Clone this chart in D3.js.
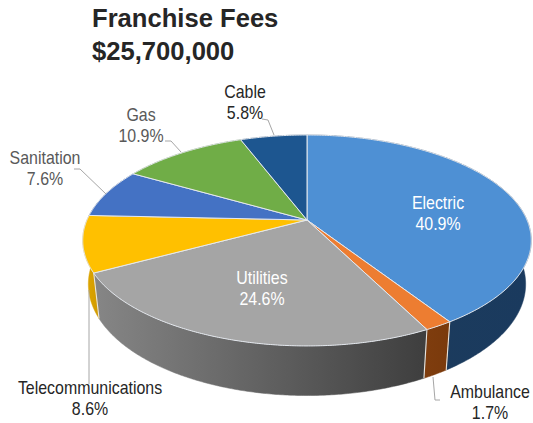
<!DOCTYPE html>
<html><head><meta charset="utf-8">
<script src="https://cdn.jsdelivr.net/npm/d3@7"></script>
<style>html,body{margin:0;background:#fff}svg{display:block}</style>
</head><body><svg id="c" width="533" height="423"></svg>
<script>
const titleLines = ["Franchise Fees", "$25,700,000"];
const categories = ["Electric", "Ambulance", "Utilities", "Telecommunications", "Sanitation", "Gas", "Cable"];
const shares = [40.9, 1.7, 24.6, 8.6, 7.6, 10.9, 5.8];
const topColors = ["#4e90d4", "#ed7d31", "#a5a5a5", "#ffc000", "#4472c4", "#70ad47", "#1d5690"];
const sideLeft = ["#1d3c5c", "#7f3d0e", "#868686", "#e2a900", "#2f5597", "#4f7f30", "#143c63"];
const sideRight = ["#1a3a5e", "#7a3a0c", "#3e3e3e", "#d09a00", "#2f5597", "#4f7f30", "#143c63"];

const svg = d3.select("#c"), defs = svg.append("defs");
// perspective projection of the pie's unit disc
const cx = 307, cy = 220, R = 220, S = 101.5, P = 0.194, D = 42.5, shrink = 0.975;
const project = (a, h) => {
  const u = Math.sin(a), v = -Math.cos(a), w = 1 - P * v;
  const k = h ? shrink : 1;
  return [cx + k * R * u / w, cy + k * S * v / w + (h ? D / w : 0)];
};
const pieData = d3.pie().sort(null).value(d => d)(shares);
const line = d3.line();
const sample = (d) => d3.range(d.startAngle, d.endAngle, Math.PI / 360).concat(d.endAngle);

// sides
const sides = svg.append("g");
pieData.forEach((d, i) => {
  const as = sample(d);
  const top = as.map(a => project(a, 0));
  const bot = as.map(a => project(a, 1));
  const xs = top.concat(bot).map(p => p[0]);
  const gid = "g" + i;
  const g = defs.append("linearGradient").attr("id", gid).attr("gradientUnits", "userSpaceOnUse")
    .attr("x1", d3.min(xs)).attr("x2", d3.max(xs)).attr("y1", 0).attr("y2", 0);
  g.append("stop").attr("offset", 0).attr("stop-color", sideLeft[i]);
  g.append("stop").attr("offset", 1).attr("stop-color", sideRight[i]);
  sides.append("path")
    .attr("d", line(top.concat(bot.reverse())) + "Z")
    .attr("fill", `url(#${gid})`)
    .attr("stroke", `url(#${gid})`).attr("stroke-width", 0.5);
});
// light seams on the front side
[1, 2, 3].forEach(i => {
  const a = pieData[i].startAngle;
  sides.append("path").attr("d", line([project(a, 0), project(a, 1)]))
    .attr("stroke", "#e8e4de").attr("stroke-width", 1.1).attr("fill", "none");
});

// top faces
const tops = svg.append("g");
pieData.forEach((d, i) => {
  tops.append("path")
    .attr("d", line([[cx, cy]].concat(sample(d).map(a => project(a, 0)))) + "Z")
    .attr("fill", topColors[i])
    .attr("stroke", "#e4e8ee").attr("stroke-width", 1).attr("stroke-linejoin", "round");
});

// leader lines
const leaders = [
  [[262, 119], [268, 120], [274, 135]],
  [[165, 141], [171, 141], [181, 152]],
  [[74, 169], [80, 169], [106, 194]],
  [[89, 384], [89, 290]],
  [[433, 377], [435, 400], [440, 400]]
];
svg.append("g").selectAll("path").data(leaders).join("path")
  .attr("d", d => line(d)).attr("fill", "none").attr("stroke", "#a6a6a6").attr("stroke-width", 1);

// labels: condensed by a horizontal scale to match the narrow face
const labelPos = [[438, 209], [490, 398], [262, 284], [90, 394], [45, 164], [141, 121], [245, 98]];
const labelFill = ["#fff", "#262626", "#fff", "#262626", "#595959", "#595959", "#262626"];
const squeeze = 0.885;
const labels = svg.append("g").attr("font-family", "'Liberation Sans',Arial,sans-serif")
  .attr("font-size", 18).attr("text-anchor", "middle");
categories.forEach((c, i) => {
  const g = labels.append("g").attr("transform", `translate(${labelPos[i][0]},${labelPos[i][1]}) scale(${squeeze},1)`)
    .attr("fill", labelFill[i]);
  g.append("text").text(c);
  g.append("text").attr("y", 21).text(shares[i].toFixed(1) + "%");
});

// title
svg.append("g").selectAll("text").data(titleLines).join("text")
  .attr("x", 92).attr("y", (d, i) => 27 + i * 33)
  .attr("font-family", "'Liberation Sans',Arial,sans-serif").attr("font-weight", "bold")
  .attr("font-size", 25.6).attr("fill", "#262626").text(d => d);
</script></body></html>
